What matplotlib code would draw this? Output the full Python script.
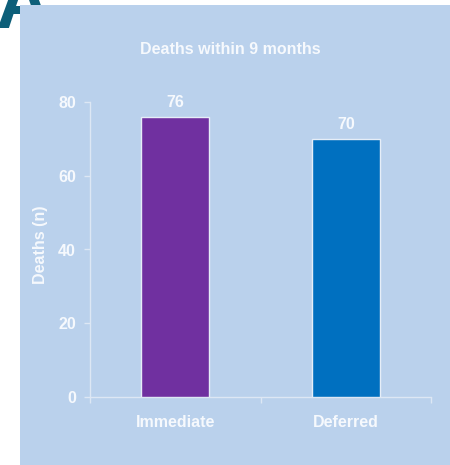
import matplotlib.pyplot as plt
from matplotlib.patches import Rectangle

plt.rcParams['font.family'] = ['Liberation Sans', 'DejaVu Sans']

categories = ["Immediate", "Deferred"]
deaths = [76, 70]
bar_colors = ["#7030A0", "#0070C0"]
y_ticks = [0, 20, 40, 60, 80]
title = "Deaths within 9 months"
y_label = "Deaths (n)"
panel_letter = "A"

W, H = 450, 465
fig = plt.figure(figsize=(W / 100, H / 100), dpi=100)
fig.patch.set_facecolor("white")

panel_bg = "#BAD1EC"
text_col = "#F6F9FD"
line_col = "#DDE7F4"
fs = 11.5

# panel letter sits behind the light blue panel
fig.text(-5 / W, 1 - 28 / H, panel_letter, fontsize=55, fontweight="bold",
         color="#0D5F79", ha="left", va="baseline", zorder=-3)
fig.patches.append(Rectangle((20 / W, 0), 1 - 20 / W, 1 - 5 / H,
                             transform=fig.transFigure, facecolor=panel_bg,
                             edgecolor="none", zorder=-2))

ax = fig.add_axes([90 / W, 1 - 397 / H, (431 - 90) / W, (397 - 102) / H])
ax.set_facecolor("none")

x = list(range(len(categories)))
bars = ax.bar(x, deaths, width=0.4, color=bar_colors, edgecolor="#E6EEF8",
              linewidth=1.0, zorder=3)
for xi, v in zip(x, deaths):
    ax.annotate(str(v), (xi, v), xytext=(0, 5), textcoords="offset points",
                ha="center", va="bottom", fontsize=fs, fontweight="bold",
                color=text_col)

ax.set_xlim(-0.5, len(categories) - 0.5)
ax.set_ylim(0, 80)
ax.set_yticks(y_ticks)
ax.set_xticks([i - 0.5 for i in range(len(categories) + 1)], minor=False)
ax.set_xticklabels([])
ax.set_xticks(x, minor=True)
ax.set_xticklabels(categories, minor=True)
ax.tick_params(axis="x", which="major", length=4, width=1, color=line_col,
               direction="out")
ax.tick_params(axis="x", which="minor", length=0, pad=13, labelsize=fs,
               labelcolor=text_col)
ax.tick_params(axis="y", length=4, width=1, color=line_col, direction="out",
               labelsize=fs, labelcolor=text_col, pad=6)
for lab in ax.get_xticklabels(minor=True) + ax.get_yticklabels():
    lab.set_fontweight("bold")

for side in ("top", "right"):
    ax.spines[side].set_visible(False)
for side in ("left", "bottom"):
    ax.spines[side].set_color(line_col)
    ax.spines[side].set_linewidth(1)

ax.set_ylabel(y_label, fontsize=fs, fontweight="bold", color=text_col)
ax.yaxis.set_label_coords(-0.123, 0.515)
fig.text(230 / W, 1 - 50 / H, title, fontsize=fs, fontweight="bold",
         color=text_col, ha="center", va="center")

fig.savefig("out.png", dpi=100)
